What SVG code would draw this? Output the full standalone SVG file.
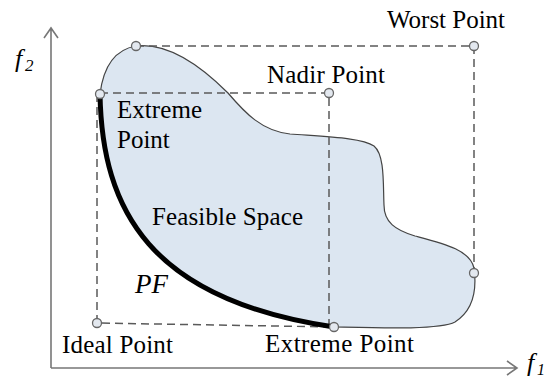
<svg xmlns="http://www.w3.org/2000/svg" width="555" height="379" viewBox="0 0 555 379">
<style>
.lbl{font-family:"Liberation Serif","Times New Roman",serif;font-size:25px;fill:#000}
.it{font-family:"Liberation Serif","Times New Roman",serif;font-style:italic;fill:#000}
.axis{stroke:#777;stroke-width:1.6;fill:none}
.dash{stroke:#5a5a5a;stroke-width:1.5;stroke-dasharray:8,5;fill:none}
.pt{fill:#e3e8ef;stroke:#666;stroke-width:1.3}
</style>
<rect width="555" height="379" fill="#fff"/>
<g id="axes">
<path class="axis" d="M51,368 V28 M44,38 L51,28 L58,38"/>
<path class="axis" d="M51,368 H517 M507,361 L517,368 L507,375"/>
<text class="it" x="15" y="67" font-size="26">f</text><text class="it" x="25" y="71" font-size="17">2</text>
<text class="it" x="527" y="371" font-size="26">f</text><text class="it" x="537" y="375" font-size="16">1</text>
</g>
<g id="feasible-space">
<path d="M100,94 C103,70 112,50 136,46 C170,42 205,70 228,93 C245,113 262,131 290,134 C330,137 362,138 374,146 C385,155 383,185 384,205 C384,222 395,230 415,236 C445,244 470,250 474,268 C477,290 474,310 455,322 C440,330 380,328 334,327 C150,300 102,210 100,94 Z" fill="#dce6f1" stroke="#444" stroke-width="1.2"/>
</g>
<g id="connectors">
<path class="dash" d="M136,46 H474 V274"/>
<path class="dash" d="M100,93 H329 V327"/>
<path class="dash" d="M97,94 V323 L334,327"/>
</g>
<g id="pareto-front">
<path d="M100,94 C102,210 150,300 334,327" fill="none" stroke="#000" stroke-width="5"/>
</g>
<g id="points">
<circle class="pt" cx="136" cy="46" r="4.5"/>
<circle class="pt" cx="474" cy="46" r="4.5"/>
<circle class="pt" cx="100" cy="94" r="4.5"/>
<circle class="pt" cx="329" cy="93" r="4.5"/>
<circle class="pt" cx="474" cy="273" r="4.5"/>
<circle class="pt" cx="97" cy="323" r="4.5"/>
<circle class="pt" cx="334" cy="327" r="4.5"/>
</g>
<g id="labels">
<text class="lbl" x="387" y="28" textLength="118">Worst Point</text>
<text class="lbl" x="267" y="83" textLength="118">Nadir Point</text>
<text class="lbl" x="117" y="118" textLength="85">Extreme</text>
<text class="lbl" x="117" y="148">Point</text>
<text class="lbl" x="152" y="225" font-size="23" textLength="151">Feasible Space</text>
<text class="it" x="135" y="293" font-size="27">PF</text>
<text class="lbl" x="62" y="353" textLength="111">Ideal Point</text>
<text class="lbl" x="265" y="352" textLength="149">Extreme Point</text>
</g>
</svg>
